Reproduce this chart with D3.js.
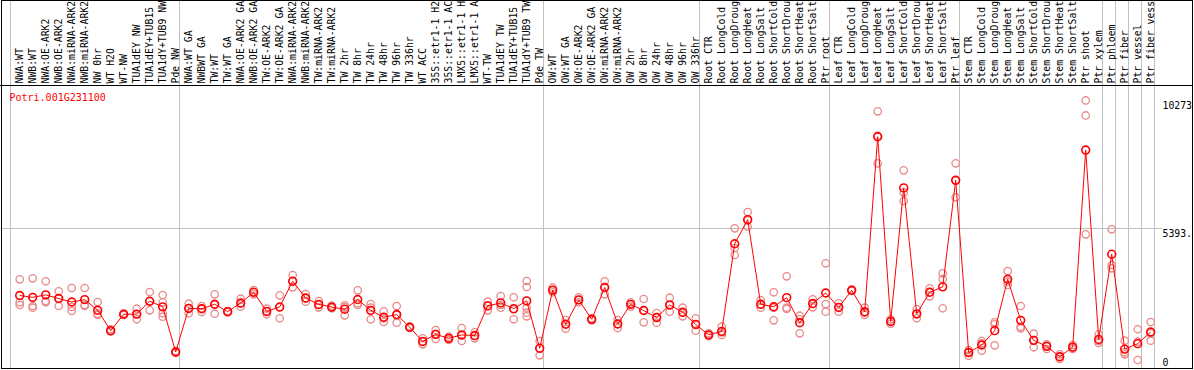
<!DOCTYPE html>
<html>
<head>
<meta charset="utf-8">
<script src="https://cdn.jsdelivr.net/npm/d3@7"></script>
<style>
  body { margin: 0; background: #fff; }
  svg { display: block; }
  text { font-family: 'DejaVu Sans Mono', monospace; font-size: 10px; }
  .lab { font-size: 9.8px; }
</style>
</head>
<body>
<div id="chart"></div>
<script>
const geneId = 'Potri.001G231100'

const samples = [
  'NWA:WT', 'NWB:WT', 'NWA:OE-ARK2', 'NWB:OE-ARK2', 'NWA:miRNA-ARK2', 'NWB:miRNA-ARK2',
  'NW 0hr', 'WT H2O', 'WT-NW', 'TUA1dEY NW', 'TUA1dEY+TUB15 NW', 'TUA1dY+TUB9 NW', 'Pde NW',
  'NWA:WT GA', 'NWBWT GA', 'TW:WT', 'TW:WT GA', 'NWA:OE-ARK2 GA', 'NWB:OE-ARK2 GA',
  'TW:OE-ARK2', 'TW:OE-ARK2 GA', 'NWA:miRNA-ARK2 GA', 'NWB:miRNA-ARK2 GA', 'TW:miRNA-ARK2',
  'TW:miRNA-ARK2 GA', 'TW 2hr', 'TW 8hr', 'TW 24hr', 'TW 48hr', 'TW 96hr', 'TW 336hr',
  'WT ACC', '35S::etr1-1 H2O', '35S::etr1-1 ACC', 'LMX5::etr1-1 H2O', 'LMX5::etr1-1 ACC',
  'WT-TW', 'TUA1dEY TW', 'TUA1dEY+TUB15 TW', 'TUA1dY+TUB9 TW', 'Pde TW',
  'OW:WT', 'OW:WT GA', 'OW:OE-ARK2', 'OW:OE-ARK2 GA', 'OW:miRNA-ARK2', 'OW:miRNA-ARK2 GA',
  'OW 2hr', 'OW 8hr', 'OW 24hr', 'OW 48hr', 'OW 96hr', 'OW 336hr',
  'Root CTR', 'Root LongCold', 'Root LongDrought', 'Root LongHeat', 'Root LongSalt',
  'Root ShortCold', 'Root ShortDrought', 'Root ShortHeat', 'Root ShortSalt', 'Ptr root',
  'Leaf CTR', 'Leaf LongCold', 'Leaf LongDrought', 'Leaf LongHeat', 'Leaf LongSalt',
  'Leaf ShortCold', 'Leaf ShortDrought', 'Leaf ShortHeat', 'Leaf ShortSalt', 'Ptr leaf',
  'Stem CTR', 'Stem LongCold', 'Stem LongDrought', 'Stem LongHeat', 'Stem LongSalt',
  'Stem ShortCold', 'Stem ShortDrought', 'Stem ShortHeat', 'Stem ShortSalt', 'Ptr shoot',
  'Ptr xylem', 'Ptr phloem', 'Ptr fiber', 'Ptr vessel', 'Ptr fiber vessel'
]

// replicate expression values, one list per sample
const replicates = [
  [3444, 2566, 2463], [3482, 2424, 2360], [3368, 2615, 2566], [2986, 2718, 2424],
  [3112, 2386, 2234], [3112, 2463, 2424], [2577, 2130, 2081], [1535, 1470, 1443],
  [2138, 2108, 2081], [2321, 2108, 1917], [2959, 2604, 2260], [2844, 2566, 2146, 2016],
  [706, 668, 630],
  [2512, 2337, 2146], [2424, 2337, 2195], [2871, 2474, 2130], [2234, 2207, 2184],
  [2703, 2512, 2398], [3035, 2948, 2871], [2321, 2222, 2108], [2833, 2375, 1955],
  [3608, 3368, 3138], [2883, 2718, 2589], [2615, 2463, 2375], [2436, 2375, 2337],
  [2451, 2386, 2069], [3024, 2528, 2463], [2501, 2360, 1917], [2222, 1955, 1814],
  [2424, 2081, 1787], [1642, 1611, 1584], [1191, 1061, 962], [1508, 1355, 1164],
  [1252, 1191, 1126], [1584, 1290, 1088], [1420, 1279, 1191], [2589, 2436, 2260],
  [2806, 2463, 2360], [2757, 2298, 1917], [3379, 3150, 2360, 2169, 2031], [1088, 809, 542],
  [3123, 3024, 2948], [1890, 1737, 1558], [2757, 2654, 2566], [1955, 1917, 1878],
  [3368, 3150, 2871], [1890, 1737, 1584], [2566, 2501, 2398], [2692, 2260, 1802],
  [2157, 2004, 1787], [2741, 2451, 2207], [2360, 2169, 2031], [1955, 1726, 1481],
  [1382, 1317, 1268], [1634, 1420, 1317], [5391, 4639, 4372], [6013, 5696, 5452],
  [2654, 2463, 2360], [2948, 2360, 1878], [3558, 2360, 2310], [2054, 1917, 1382],
  [2680, 2501, 2375], [4055, 2501, 2207],
  [2528, 2375, 2207], [3054, 3024, 2997], [2360, 2169, 2081], [9858, 8927, 7873],
  [1917, 1840, 1749], [7605, 6766, 6433], [2310, 2108, 1955], [3100, 2948, 2795],
  [3673, 3455, 2337], [7873, 7224, 6575],
  [745, 668, 527], [1088, 1000, 718], [1802, 1726, 924], [3761, 3352, 3226],
  [2424, 1634, 1573], [1367, 1126, 848], [962, 909, 783], [580, 477, 401],
  [935, 848, 783], [10273, 9700, 5162], [1344, 1088, 1012],
  [5353, 3990, 3864], [1100, 657, 580], [1535, 1061, 363], [1814, 1382, 1100]
]

// index of first sample in each experiment group (last = end)
const groupStarts = [0, 13, 41, 53, 63, 73, 84, 85, 86, 87, 88]

const width = 1194
const height = 370
const headerH = 85
const plotBottom = 368.5
const right = 1192.5
const maxChars = 14 // header only has room for this many

const svg = d3.select('#chart').append('svg')
  .attr('width', width)
  .attr('height', height)

const x = d3.scaleBand()
  .domain(d3.range(samples.length))
  .range([11, 11 + 13 * samples.length])
const cx = i => x(i) + 8.7

const maxVal = d3.max(replicates, r => d3.max(r))
const y = d3.scaleLinear()
  .domain([0, maxVal * 1.05])
  .range([369.5, 87])

const means = replicates.map(r => d3.mean(r))

// group separators
svg.append('g')
  .selectAll('line')
  .data(groupStarts)
  .join('line')
  .attr('x1', d => Math.round(d < samples.length ? x(d) : x.range()[1]) - 0.5)
  .attr('x2', d => Math.round(d < samples.length ? x(d) : x.range()[1]) - 0.5)
  .attr('y1', 0)
  .attr('y2', plotBottom)
  .attr('stroke', '#c0c0c0')

// sample labels, rotated
svg.append('g')
  .selectAll('text')
  .data(samples)
  .join('text')
  .attr('class', 'lab')
  .attr('transform', (d, i) => `translate(${x(i) + 12},83.5) rotate(-90)`)
  .attr('fill', '#000')
  .text(d => d.slice(0, maxChars))

// y ticks: 0, half of domain, max
const yTicks = [0, y.domain()[1] / 2, maxVal]
const fmt = v => String(+v.toFixed(3)).slice(0, 5)

svg.append('line')
  .attr('x1', 1.5)
  .attr('x2', 1162)
  .attr('y1', Math.floor(y(yTicks[1])) + 0.5)
  .attr('y2', Math.floor(y(yTicks[1])) + 0.5)
  .attr('stroke', '#c0c0c0')

svg.append('g')
  .selectAll('text')
  .data(yTicks)
  .join('text')
  .attr('class', 'lab')
  .attr('x', 1162.5)
  .attr('y', d => Math.min(y(d) + 8.5, 365.5))
  .attr('fill', '#000')
  .text(fmt)

// frame
svg.append('rect')
  .attr('x', 1.5)
  .attr('y', 0.5)
  .attr('width', right - 1.5)
  .attr('height', plotBottom - 0.5)
  .attr('fill', 'none')
  .attr('stroke', '#000')
svg.append('line')
  .attr('x1', 0)
  .attr('x2', right)
  .attr('y1', headerH + 0.5)
  .attr('y2', headerH + 0.5)
  .attr('stroke', '#000')

svg.append('text')
  .attr('x', 9.5)
  .attr('y', 101)
  .attr('fill', '#ff0000')
  .text(geneId)

// replicate points
svg.append('g')
  .selectAll('g')
  .data(replicates)
  .join('g')
  .selectAll('circle')
  .data((r, i) => r.map(v => ({ i, v })))
  .join('circle')
  .attr('cx', d => cx(d.i))
  .attr('cy', d => y(d.v))
  .attr('r', 3.7)
  .attr('fill', 'none')
  .attr('stroke', '#e98a8a')
  .attr('stroke-width', 1.3)

const line = d3.line()
  .x((d, i) => cx(i))
  .y(d => y(d))

svg.append('path')
  .attr('d', line(means))
  .attr('fill', 'none')
  .attr('stroke', '#ff0000')
  .attr('stroke-width', 1)

svg.append('g')
  .selectAll('circle')
  .data(means)
  .join('circle')
  .attr('cx', (d, i) => cx(i))
  .attr('cy', d => y(d))
  .attr('r', 3.9)
  .attr('fill', 'none')
  .attr('stroke', '#ff0000')
  .attr('stroke-width', 1.6)
</script>
</body>
</html>
